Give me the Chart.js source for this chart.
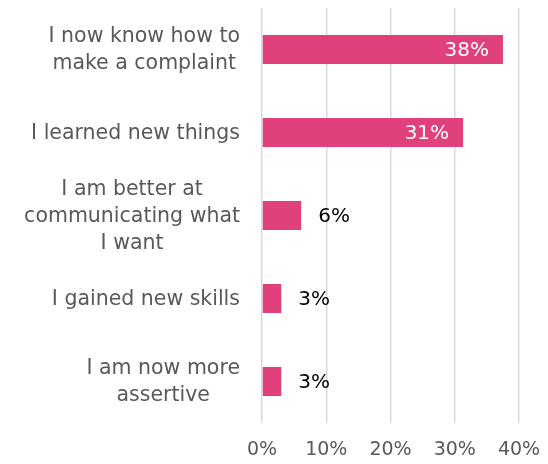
<!DOCTYPE html>
<html>
<head>
<meta charset="utf-8">
<script src="https://cdn.jsdelivr.net/npm/chart.js@4/dist/chart.umd.min.js"></script>
<style>
  html, body { margin: 0; padding: 0; background: #fff; }
  #wrap { width: 548px; height: 464px; }
</style>
</head>
<body>
<div id="wrap"><canvas id="myChart"></canvas></div>
<script>
const categories = [
  ["I now know how to", "make a complaint"],
  "I learned new things",
  ["I am better at", "communicating what", "I want"],
  "I gained new skills",
  ["I am now more", "assertive"],
];
const percentValues = [37.5, 31.3, 6.1, 3.0, 3.0];
const xTicks = [0, 10, 20, 30, 40];

const FONT = "'DejaVu Sans', Verdana, sans-serif";
const PINK = "#e0407c";
const LABEL_SIZE = 20.5;
const LABEL_LINE = 27;

// category labels: block right-aligned to the axis, lines centred inside the block
const categoryLabels = {
  id: "categoryLabels",
  afterDraw(chart) {
    const ctx = chart.ctx;
    const yScale = chart.scales.y;
    const rightEdge = chart.chartArea.left - 22;
    ctx.save();
    ctx.font = LABEL_SIZE + "px " + FONT;
    ctx.fillStyle = "#595959";
    ctx.textAlign = "center";
    ctx.textBaseline = "middle";
    categories.forEach((label, i) => {
      const lines = Array.isArray(label) ? label : [label];
      const blockW = Math.max(...lines.map((l) => ctx.measureText(l).width));
      const cx = rightEdge - blockW / 2;
      const cy = yScale.getPixelForValue(i) + 1;
      const top = cy - ((lines.length - 1) * LABEL_LINE) / 2;
      lines.forEach((l, j) => ctx.fillText(l, cx, top + j * LABEL_LINE));
    });
    ctx.restore();
  },
};

// value labels: white inside the long bars, black beside the short ones
const barLabels = {
  id: "barLabels",
  afterDatasetsDraw(chart) {
    const ctx = chart.ctx;
    const meta = chart.getDatasetMeta(0);
    ctx.save();
    ctx.font = "20px " + FONT;
    ctx.textBaseline = "middle";
    meta.data.forEach((bar, i) => {
      const v = percentValues[i];
      const text = Math.round(v) + "%";
      if (v > 20) {
        ctx.fillStyle = "#ffffff";
        ctx.textAlign = "right";
        ctx.fillText(text, bar.x - 14, bar.y + 1);
      } else {
        ctx.fillStyle = "#000000";
        ctx.textAlign = "left";
        ctx.fillText(text, bar.x + 17, bar.y + 1);
      }
    });
    ctx.restore();
  },
};

var ctx = document.getElementById("myChart").getContext("2d");
var myChart = new Chart(ctx, {
  type: "bar",
  data: {
    labels: categories,
    datasets: [
      {
        data: percentValues,
        backgroundColor: PINK,
        borderWidth: 0,
        barPercentage: 0.7,
        categoryPercentage: 0.5,
      },
    ],
  },
  options: {
    indexAxis: "y",
    responsive: true,
    maintainAspectRatio: false,
    animation: false,
    layout: { padding: { top: 8, right: 29, left: 0, bottom: 0 } },
    plugins: {
      legend: { display: false },
      tooltip: { enabled: false },
    },
    scales: {
      x: {
        min: 0,
        max: 40,
        afterBuildTicks: (s) => {
          s.ticks = xTicks.map((v) => ({ value: v }));
        },
        afterFit: (s) => {
          s.height = 41;
          s.paddingLeft = 0;
          s.paddingRight = 0;
        },
        grid: { color: "#d9d9d9", lineWidth: 1.5, drawTicks: false },
        border: { display: false },
        ticks: {
          padding: 16,
          color: "#595959",
          font: { family: FONT, size: 19 },
          callback: (v) => v + "%",
        },
      },
      y: {
        afterFit: (s) => {
          s.width = 262;
          s.paddingTop = 0;
          s.paddingBottom = 0;
        },
        grid: { display: false },
        border: { display: false },
        ticks: { display: false },
      },
    },
  },
  plugins: [barLabels, categoryLabels],
});
</script>
</body>
</html>
